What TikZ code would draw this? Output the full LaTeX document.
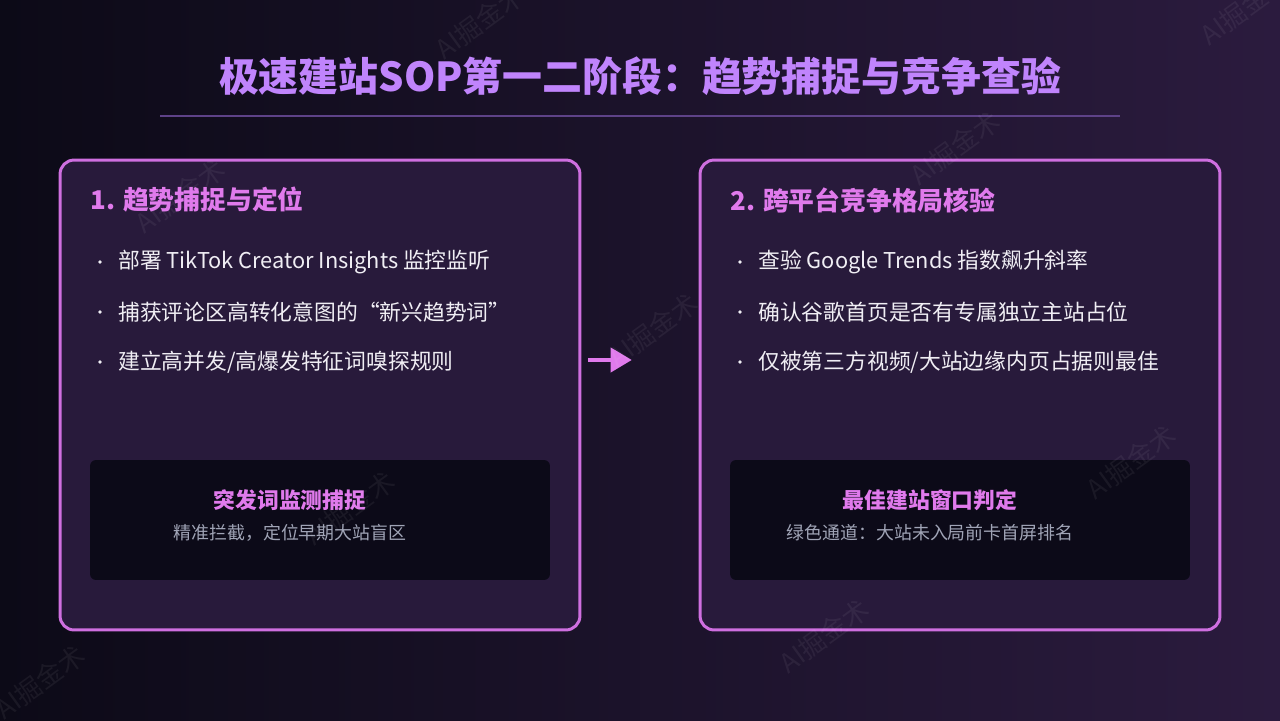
\documentclass[tikz,border=0pt]{standalone}
\usepackage{fontspec}
\setmainfont{Noto Sans CJK SC}
\usepackage{tikz}
\usetikzlibrary{arrows.meta}

\definecolor{bgleft}{HTML}{0C0A17}
\definecolor{bgright}{HTML}{2B1B3E}
\definecolor{titlecol}{HTML}{C084FC}
\definecolor{rulecol}{HTML}{5E4288}
\definecolor{cardline}{HTML}{CF6FE0}
\definecolor{cardfill}{HTML}{281A3B}
\definecolor{headcol}{HTML}{E07AEC}
\definecolor{boxfill}{HTML}{0C0A18}
\definecolor{subcol}{HTML}{A0A4B6}
\definecolor{itemcol}{HTML}{F0EEF4}

\begin{document}
\begin{tikzpicture}[x=0.02cm, y=-0.02cm,
    card/.style={draw=cardline, line width=1.7pt, fill=cardfill, rounded corners=8pt,
      minimum width=10.4cm, minimum height=9.4cm, inner sep=0pt},
    innerbox/.style={fill=boxfill, rounded corners=3.4pt, minimum width=9.2cm,
      minimum height=2.4cm, inner sep=0pt},
    heading/.style={anchor=west, inner sep=0pt, text=headcol, font=\bfseries\fontsize{14.7}{18}\selectfont},
    item/.style={anchor=west, inner sep=0pt, text=itemcol, font=\fontsize{12.4}{15}\selectfont},
    dot/.style={circle, fill=itemcol, inner sep=0pt, minimum size=2.2pt},
    boxtitle/.style={inner sep=0pt, text=headcol, font=\bfseries\fontsize{12.4}{15}\selectfont},
    boxnote/.style={inner sep=0pt, text=subcol, font=\fontsize{10.2}{13}\selectfont},
    wmark/.style={inner sep=0pt, rotate=36, text=white, opacity=0.06, font=\fontsize{15}{17}\selectfont},
    flow/.style={draw=headcol, line width=2.3pt, -{Triangle[length=12pt, width=13.6pt]}}]

  \path[use as bounding box, clip] (0,0) rectangle (1280,720);
  \fill[left color=bgleft, right color=bgright] (0,0) rectangle (1280,720);

  \node[inner sep=0pt, text=titlecol, font=\bfseries\fontsize{22.7}{27}\selectfont] (title) at (640,76)
    {极速建站SOP第一二阶段：趋势捕捉与竞争查验};
  \draw[rulecol, line width=1.1pt] (160,116) -- (1120,116);

  \node[card] (trend) at (320,395) {};
  \node[card] (compete) at (960,395) {};

  \node[wmark] (wa) at (480,22) {AI掘金术};
  \node[wmark] (wb) at (1245,8) {AI掘金术};
  \node[wmark] (wc) at (180,196) {AI掘金术};
  \node[wmark] (wd) at (955,148) {AI掘金术};
  \node[wmark] (wh) at (824,636) {AI掘金术};
  \node[wmark] (wi) at (40,682) {AI掘金术};

  \node[heading] (trendhead) at (90,200) {1. 趋势捕捉与定位};
  \node[dot] (dota) at (100,262) {};
  \node[item] (itema) at (118,262) {部署 TikTok Creator Insights 监控监听};
  \node[dot] (dotb) at (100,312) {};
  \node[item] (itemb) at (118,312) {捕获评论区高转化意图的“新兴趋势词”};
  \node[dot] (dotc) at (100,362) {};
  \node[item] (itemc) at (118,362) {建立高并发/高爆发特征词嗅探规则};

  \node[innerbox] (burst) at (320,520) {};
  \node[boxtitle] (bursttitle) at (290,500) {突发词监测捕捉};
  \node[boxnote] (burstnote) at (290,533) {精准拦截，定位早期大站盲区};

  \node[heading] (competehead) at (730,200) {2. 跨平台竞争格局核验};
  \node[dot] (dotd) at (740,262) {};
  \node[item] (itemd) at (758,262) {查验 Google Trends 指数飙升斜率};
  \node[dot] (dote) at (740,312) {};
  \node[item] (iteme) at (758,312) {确认谷歌首页是否有专属独立主站占位};
  \node[dot] (dotf) at (740,362) {};
  \node[item] (itemf) at (758,362) {仅被第三方视频/大站边缘内页占据则最佳};

  \node[innerbox] (window) at (960,520) {};
  \node[boxtitle] (windowtitle) at (930,500) {最佳建站窗口判定};
  \node[boxnote] (windownote) at (930,533) {绿色通道：大站未入局前卡首屏排名};

  \draw[flow, shorten <=4pt, shorten >=38pt] (trend.east |- 0,360) -- (compete.west |- 0,360);

  \node[wmark] (we) at (653,330) {AI掘金术};
  \node[wmark] (wf) at (350,508) {AI掘金术};
  \node[wmark] (wg) at (1131,462) {AI掘金术};
\end{tikzpicture}
\end{document}
